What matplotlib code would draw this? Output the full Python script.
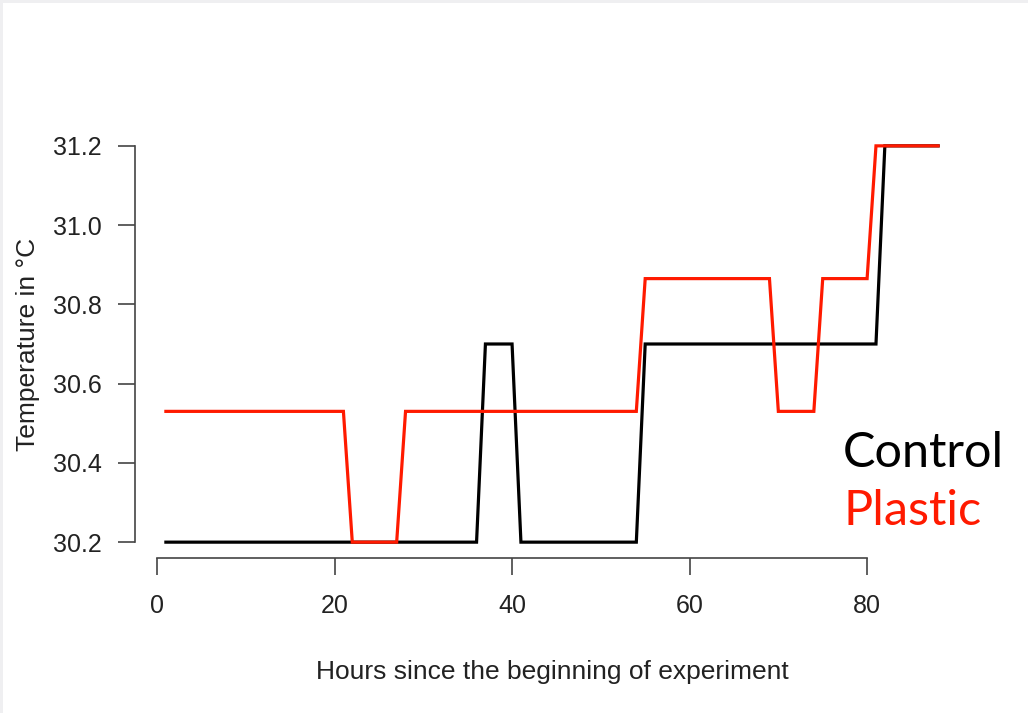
import matplotlib
matplotlib.use("Agg")
import matplotlib.pyplot as plt
import numpy as np

# hourly temperature readings (deg C), hours 1..88
hours = np.arange(1, 89)

control = [
    30.2, 30.2, 30.2, 30.2, 30.2, 30.2, 30.2, 30.2, 30.2, 30.2,
    30.2, 30.2, 30.2, 30.2, 30.2, 30.2, 30.2, 30.2, 30.2, 30.2,
    30.2, 30.2, 30.2, 30.2, 30.2, 30.2, 30.2, 30.2, 30.2, 30.2,
    30.2, 30.2, 30.2, 30.2, 30.2, 30.2, 30.7, 30.7, 30.7, 30.7,
    30.2, 30.2, 30.2, 30.2, 30.2, 30.2, 30.2, 30.2, 30.2, 30.2,
    30.2, 30.2, 30.2, 30.2, 30.7, 30.7, 30.7, 30.7, 30.7, 30.7,
    30.7, 30.7, 30.7, 30.7, 30.7, 30.7, 30.7, 30.7, 30.7, 30.7,
    30.7, 30.7, 30.7, 30.7, 30.7, 30.7, 30.7, 30.7, 30.7, 30.7,
    30.7, 31.2, 31.2, 31.2, 31.2, 31.2, 31.2, 31.2,
]

plastic = [
    30.53, 30.53, 30.53, 30.53, 30.53, 30.53, 30.53, 30.53, 30.53, 30.53,
    30.53, 30.53, 30.53, 30.53, 30.53, 30.53, 30.53, 30.53, 30.53, 30.53,
    30.53, 30.2, 30.2, 30.2, 30.2, 30.2, 30.2, 30.53, 30.53, 30.53,
    30.53, 30.53, 30.53, 30.53, 30.53, 30.53, 30.53, 30.53, 30.53, 30.53,
    30.53, 30.53, 30.53, 30.53, 30.53, 30.53, 30.53, 30.53, 30.53, 30.53,
    30.53, 30.53, 30.53, 30.53, 30.865, 30.865, 30.865, 30.865, 30.865, 30.865,
    30.865, 30.865, 30.865, 30.865, 30.865, 30.865, 30.865, 30.865, 30.865, 30.53,
    30.53, 30.53, 30.53, 30.53, 30.865, 30.865, 30.865, 30.865, 30.865, 30.865,
    31.2, 31.2, 31.2, 31.2, 31.2, 31.2, 31.2, 31.2,
]

x_ticks = [0, 20, 40, 60, 80]
y_ticks = [30.2, 30.4, 30.6, 30.8, 31.0, 31.2]

plt.rcParams['font.family'] = ['Liberation Sans', 'DejaVu Sans']

fig = plt.figure(figsize=(10.28, 7.13), dpi=100)
fig.patch.set_facecolor('#efeff1')
# white page inside a thin grey frame on the top and left
fig.patches.append(plt.Rectangle((3 / 1028, 0), 1, 1 - 3 / 713, transform=fig.transFigure,
                                 facecolor='white', edgecolor='none', zorder=-1))

ax = fig.add_axes([135 / 1028, 1 - 558 / 713, 834 / 1028, 428 / 713])
ax.set_facecolor('none')

ax.plot(hours, control, color='black', lw=2.3, solid_joinstyle='miter')
ax.plot(hours, plastic, color='#ff1a00', lw=2.3, solid_joinstyle='miter')

# R-style limits: 4% padding around the data range
pad_x = 0.04 * (hours.max() - hours.min())
ax.set_xlim(hours.min() - pad_x, hours.max() + pad_x)
ax.set_ylim(30.2 - 0.04, 31.2 + 0.04)

ax.set_xticks(x_ticks)
ax.set_yticks(y_ticks)
ax.set_yticklabels([f"{v:.1f}" for v in y_ticks])

for side in ['top', 'right']:
    ax.spines[side].set_visible(False)
ax.spines['bottom'].set_bounds(0, 80)
ax.spines['left'].set_bounds(30.2, 31.2)
for side in ['bottom', 'left']:
    ax.spines[side].set_color('#444444')
    ax.spines[side].set_linewidth(1.2)

ax.tick_params(axis='both', direction='out', length=12, width=1.2, color='#444444',
               labelsize=18, labelcolor='#222222')
ax.tick_params(axis='x', pad=14)
ax.tick_params(axis='y', pad=12)

ax.set_xlabel("Hours since the beginning of experiment", fontsize=19, color='#222222', labelpad=30)
ax.set_ylabel("Temperature in °C", fontsize=19, color='#222222', labelpad=9)

fig.text(843 / 1028, 1 - 467 / 713, "Control", color='black', fontsize=35,
         family=['Lato', 'DejaVu Sans'], va='baseline', ha='left')
fig.text(843 / 1028, 1 - 525 / 713, "Plastic", color='#ff1a00', fontsize=35,
         family=['Lato', 'DejaVu Sans'], va='baseline', ha='left')

fig.savefig("out.png", dpi=100)
